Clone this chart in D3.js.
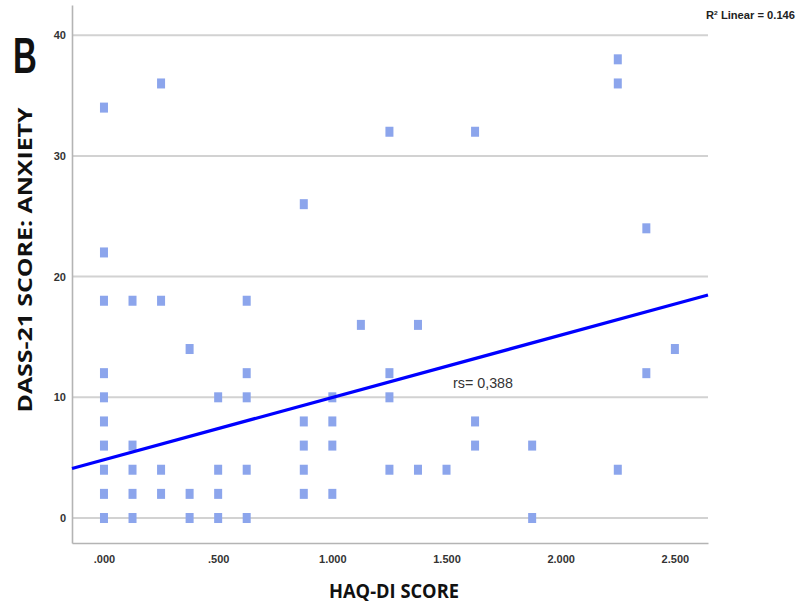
<!DOCTYPE html>
<html>
<head>
<meta charset="utf-8">
<script src="https://cdn.jsdelivr.net/npm/d3@7"></script>
<style>
  html, body { margin: 0; padding: 0; background: #fff; }
  svg { display: block; }
</style>
</head>
<body>
<svg id="chart" width="798" height="609"></svg>
<script>
// HAQ-DI score (x) and DASS-21 anxiety score (y) for each participant
const haqScores = [
  0, 0, 0, 0, 0, 0, 0, 0, 0, 0,
  0.125, 0.125, 0.125, 0.125, 0.125,
  0.25, 0.25, 0.25, 0.25,
  0.375, 0.375, 0.375,
  0.5, 0.5, 0.5, 0.5,
  0.625, 0.625, 0.625, 0.625, 0.625,
  0.875, 0.875, 0.875, 0.875, 0.875,
  1.0, 1.0, 1.0, 1.0,
  1.125,
  1.25, 1.25, 1.25, 1.25,
  1.375, 1.375,
  1.5,
  1.625, 1.625, 1.625,
  1.875, 1.875,
  2.25, 2.25, 2.25,
  2.375, 2.375,
  2.5
];
const anxietyScores = [
  34, 22, 18, 12, 10, 8, 6, 4, 2, 0,
  18, 6, 4, 2, 0,
  36, 18, 4, 2,
  14, 2, 0,
  10, 4, 2, 0,
  18, 12, 10, 4, 0,
  26, 8, 6, 4, 2,
  10, 8, 6, 2,
  16,
  32, 12, 10, 4,
  16, 4,
  4,
  32, 8, 6,
  6, 0,
  38, 36, 4,
  24, 12,
  14
];

// Linear fit line and annotations
const fitIntercept = 4.83;
const fitSlope = 5.16;
const xTicks = [0, 0.5, 1.0, 1.5, 2.0, 2.5];
const yTicks = [0, 10, 20, 30, 40];
const xDomain = [-0.14, 2.645];
const yDomain = [-2.07, 42.5];
const panelLabel = "B";
const xTitle = "HAQ-DI SCORE";
const yTitle = "DASS-21 SCORE: ANXIETY";
const fitLabel = "Linear = 0.146";
const rsLabel = "rs= 0,388";

const svg = d3.select("#chart");
const plotLeft = 72, plotRight = 708, plotTop = 5, plotBottom = 543;

const x = d3.scaleLinear().domain(xDomain).range([plotLeft, plotRight]);
const y = d3.scaleLinear().domain(yDomain).range([plotBottom, plotTop]);

// Horizontal gridlines
svg.append("g")
  .selectAll("line")
  .data(yTicks)
  .join("line")
  .attr("x1", plotLeft).attr("x2", plotRight)
  .attr("y1", d => y(d)).attr("y2", d => y(d))
  .attr("stroke", "#d2d2d2")
  .attr("stroke-width", 2);

// Axes
const fmtX = v => {
  const s = d3.format(".3f")(v);
  return v < 1 ? s.replace(/^0/, "") : s;
};
const xAxis = svg.append("g")
  .attr("transform", `translate(0,${plotBottom})`)
  .call(d3.axisBottom(x).tickValues(xTicks).tickFormat(fmtX).tickSize(0).tickPadding(12));
const yAxis = svg.append("g")
  .attr("transform", `translate(${plotLeft},0)`)
  .call(d3.axisLeft(y).tickValues(yTicks).tickFormat(d3.format("d")).tickSize(0).tickPadding(6));

[xAxis, yAxis].forEach(g => {
  g.select(".domain").attr("stroke", "#b4b4b4").attr("stroke-width", 1.6);
  g.selectAll("text")
    .attr("fill", "#333")
    .attr("font-family", "Liberation Sans, Arial, sans-serif")
    .attr("font-weight", "bold")
    .attr("font-size", 11);
});

// Scatter points (small squares)
const pw = 8, ph = 10;
svg.append("g")
  .selectAll("rect")
  .data(haqScores.map((h, i) => ({ h, a: anxietyScores[i] })))
  .join("rect")
  .attr("x", d => x(d.h) - pw / 2)
  .attr("y", d => y(d.a) - ph / 2)
  .attr("width", pw)
  .attr("height", ph)
  .attr("fill", "#8ca5ec");

// Fit line across the full plot width
svg.append("line")
  .attr("x1", x(xDomain[0])).attr("y1", y(fitIntercept + fitSlope * xDomain[0]))
  .attr("x2", x(xDomain[1])).attr("y2", y(fitIntercept + fitSlope * xDomain[1]))
  .attr("stroke", "#0000ff")
  .attr("stroke-width", 3.2)
  .attr("stroke-linecap", "butt");

// Panel letter
svg.append("text")
  .attr("transform", "translate(13,73) scale(0.66,1)")
  .attr("font-family", "Liberation Sans, Arial, sans-serif")
  .attr("font-weight", "bold")
  .attr("font-size", 50)
  .attr("fill", "#111")
  .text(panelLabel);

// Axis titles
svg.append("text")
  .attr("x", 394).attr("y", 598)
  .attr("text-anchor", "middle")
  .attr("font-family", "Open Sans, sans-serif")
  .attr("font-weight", "bold")
  .attr("font-size", 20)
  .attr("fill", "#111")
  .attr("textLength", 130)
  .attr("lengthAdjust", "spacingAndGlyphs")
  .text(xTitle);

svg.append("text")
  .attr("transform", "translate(32,260) rotate(-90)")
  .attr("text-anchor", "middle")
  .attr("font-family", "Open Sans, sans-serif")
  .attr("font-weight", "bold")
  .attr("font-size", 20)
  .attr("fill", "#111")
  .attr("textLength", 305)
  .attr("lengthAdjust", "spacingAndGlyphs")
  .text(yTitle);

// R² annotation, top right
const r2 = svg.append("text")
  .attr("x", 706).attr("y", 19)
  .attr("font-family", "Liberation Sans, Arial, sans-serif")
  .attr("font-weight", "bold")
  .attr("font-size", 10)
  .attr("fill", "#222")
  .attr("textLength", 89)
  .attr("lengthAdjust", "spacingAndGlyphs");
r2.append("tspan").text("R");
r2.append("tspan").attr("font-size", 6).attr("dy", -4).text("2");
r2.append("tspan").attr("dy", 4).text(" " + fitLabel);

// Correlation annotation
svg.append("text")
  .attr("x", 453).attr("y", 388)
  .attr("font-family", "Liberation Sans, Arial, sans-serif")
  .attr("font-size", 14)
  .attr("fill", "#333")
  .attr("textLength", 60)
  .attr("lengthAdjust", "spacingAndGlyphs")
  .text(rsLabel);
</script>
</body>
</html>
